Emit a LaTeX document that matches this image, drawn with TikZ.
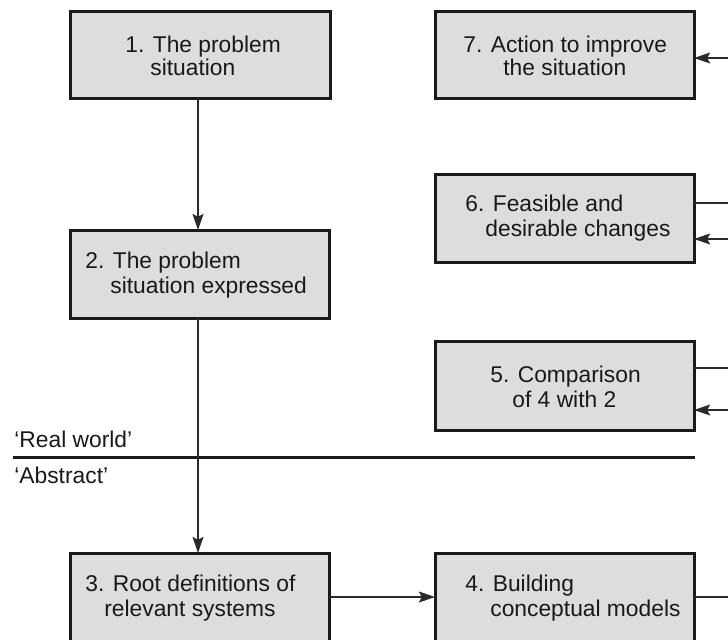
\documentclass[tikz,border=0pt]{standalone}
\usepackage{fontspec}
\setmainfont{Liberation Sans}
\usetikzlibrary{arrows.meta}
\definecolor{boxfill}{HTML}{DDDDDD}
\definecolor{boxline}{HTML}{1A1A1A}
\definecolor{linkline}{HTML}{2A2A2A}
\tikzset{
  stagebox/.style={draw=boxline, line width=1.5pt, fill=boxfill},
  lbl/.style={anchor=base west, inner sep=0pt, text=black!90,
    font=\fontsize{11.4}{13}\selectfont},
  link/.style={draw=linkline, line width=1.1pt},
  linkarrow/.style={link, -{Stealth[length=8pt,width=5.4pt,inset=1.4pt]}},
}
\begin{document}
\begin{tikzpicture}[x=0.5pt, y=-0.5pt]
\useasboundingbox (0,0) rectangle (728,639);
\clip (0,0) rectangle (728,639);
\fill[white] (0,0) rectangle (728,639);

% stage boxes
\path[stagebox] (70,11) rectangle (330,98);
\path[stagebox] (435,11) rectangle (694,98);
\path[stagebox] (435,174) rectangle (694,262);
\path[stagebox] (70,230) rectangle (329,318);
\path[stagebox] (435,341) rectangle (694,430);
\path[stagebox] (70,553) rectangle (329,650);
\path[stagebox] (435,553) rectangle (694,650);

% named anchors on the boxes
\coordinate (b1s) at (198,98);
\coordinate (b2n) at (198,230);
\coordinate (b2s) at (198,318);
\coordinate (b3n) at (198,553);
\coordinate (b3e) at (329,597);
\coordinate (b4w) at (435,597);
\coordinate (b4e) at (694,597);
\coordinate (b5eo) at (694,368);
\coordinate (b5ei) at (694,410);
\coordinate (b6eo) at (694,203);
\coordinate (b6ei) at (694,239);
\coordinate (b7e) at (694,58);

% loop ends beyond the right margin
\coordinate (x4) at (732,597);
\coordinate (x5o) at (732,368);
\coordinate (x5i) at (732,410);
\coordinate (x6o) at (732,203);
\coordinate (x6i) at (732,239);
\coordinate (x7) at (732,58);

% texts
\node[lbl] (t1a) at (125,52) {1. The problem};
\node[lbl] (t1b) at (150,75) {situation};
\node[lbl] (t7a) at (463,52) {7. Action to improve};
\node[lbl] (t7b) at (503,75) {the situation};
\node[lbl] (t6a) at (465,211) {6. Feasible and};
\node[lbl] (t6b) at (485,236) {desirable changes};
\node[lbl] (t2a) at (85,268) {2. The problem};
\node[lbl] (t2b) at (110,293) {situation expressed};
\node[lbl] (t5a) at (490,382) {5. Comparison};
\node[lbl] (t5b) at (512,407) {of 4 with 2};
\node[lbl] (t3a) at (85,591) {3. Root definitions of};
\node[lbl] (t3b) at (104,616) {relevant systems};
\node[lbl] (t4a) at (465,591) {4. Building};
\node[lbl] (t4b) at (490,616) {conceptual models};

% real world / abstract divide
\coordinate (dl) at (13,457);
\coordinate (dr) at (695,457);
\draw[boxline, line width=1.5pt] (dl) -- (dr);
\node[lbl] (rw) at (14,447) {‘Real world’};
\node[lbl] (ab) at (14,483) {‘Abstract’};

% connectors
\draw[linkarrow] (b1s) -- (b2n);
\draw[linkarrow] (b2s) -- (b3n);
\draw[linkarrow] (b3e) -- (b4w);
\draw[link] (b4e) -- (x4);
\draw[link] (b5eo) -- (x5o);
\draw[linkarrow] (x5i) -- (b5ei);
\draw[link] (b6eo) -- (x6o);
\draw[linkarrow] (x6i) -- (b6ei);
\draw[linkarrow] (x7) -- (b7e);
\end{tikzpicture}
\end{document}
